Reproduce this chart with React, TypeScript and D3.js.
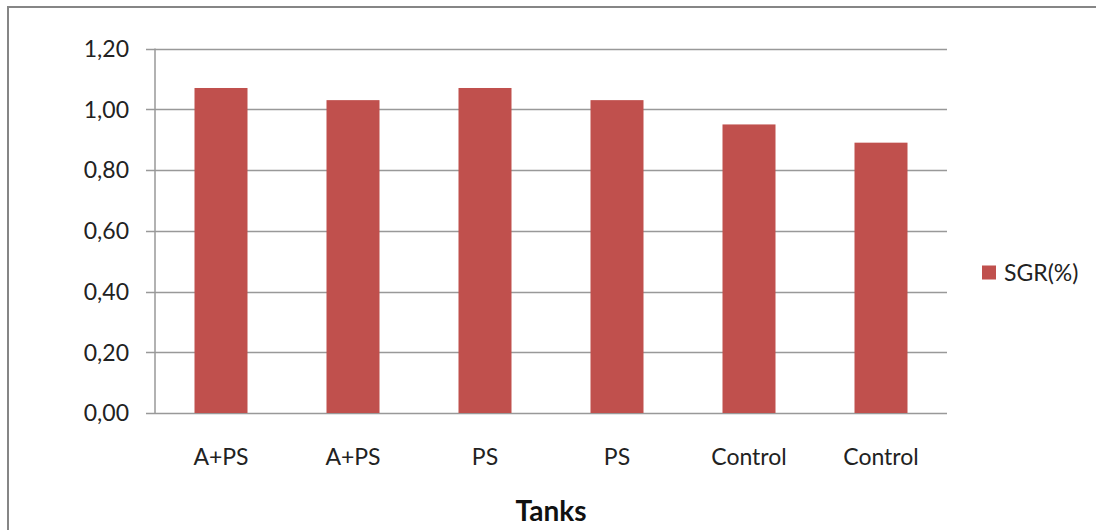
import React from "react";
import * as d3 from "d3";

const categories = ["A+PS", "A+PS", "PS", "PS", "Control", "Control"];
const sgrValues = [1.07, 1.03, 1.07, 1.03, 0.95, 0.89];
const yTicks = [0, 0.2, 0.4, 0.6, 0.8, 1.0, 1.2];
const seriesName = "SGR(%)";
const xTitle = "Tanks";

const W = 1096;
const H = 530;
const left = 155;
const right = 947;
const top = 48.5;
const bottom = 413;
const font = "Lato, 'Open Sans', sans-serif";
const barColor = "#C0504D";

export default function App() {
  const x = d3
    .scaleBand<number>()
    .domain(categories.map((_, i) => i))
    .range([left, right])
    .paddingInner(0.6)
    .paddingOuter(0.3);
  const y = d3.scaleLinear().domain([0, 1.2]).range([bottom, top]);
  const bw = 53;
  const fmt = (v: number) => v.toFixed(2).replace(".", ",");

  return (
    <svg
      width={W}
      height={H}
      style={{ position: "absolute", left: 0, top: 0, background: "#fff" }}
    >
      <rect x={0} y={0} width={W} height={H} fill="#fff" />
      <rect x={8} y={7} width={1300} height={700} fill="#fff" stroke="#868686" strokeWidth={2} />
      {yTicks.map((t) => (
        <g key={t}>
          <line x1={146} x2={right} y1={Math.round(y(t)) + 0.5} y2={Math.round(y(t)) + 0.5} stroke="#999" strokeWidth={1.5} />
          <text
            x={129}
            y={y(t)}
            dy="0.36em"
            textAnchor="end"
            fontFamily={font}
            fontSize={23}
            fill="#222"
          >
            {fmt(t)}
          </text>
        </g>
      ))}
      <line x1={left} x2={left} y1={top} y2={bottom} stroke="#999" strokeWidth={1.5} />
      {sgrValues.map((v, i) => {
        const cx = (x(i) as number) + x.bandwidth() / 2;
        return (
          <rect
            key={i}
            x={cx - bw / 2}
            y={y(v)}
            width={bw}
            height={bottom - y(v)}
            fill={barColor}
          />
        );
      })}
      {categories.map((c, i) => (
        <text
          key={i}
          x={(x(i) as number) + x.bandwidth() / 2}
          y={457}
          dy="0.36em"
          textAnchor="middle"
          fontFamily={font}
          fontSize={23}
          fill="#222"
        >
          {c}
        </text>
      ))}
      <text
        x={(left + right) / 2}
        y={521}
        textAnchor="middle"
        fontFamily={font}
        fontSize={28}
        fontWeight="bold"
        fill="#111"
      >
        {xTitle}
      </text>
      <rect x={982} y={265.5} width={14} height={14} fill={barColor} />
      <text x={1004} y={272.5} dy="0.36em" fontFamily={font} fontSize={23} fill="#222">
        {seriesName}
      </text>
    </svg>
  );
}
